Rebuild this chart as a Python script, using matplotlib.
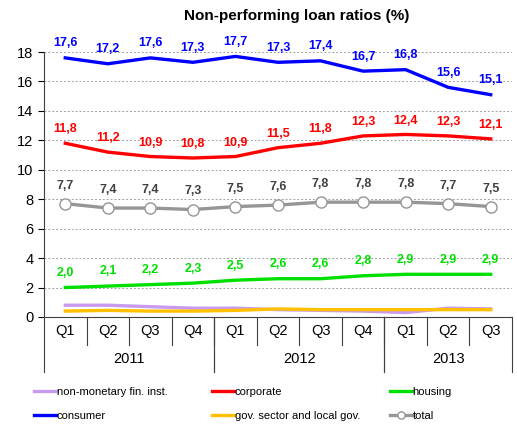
import numpy as np
import matplotlib.pyplot as plt
import matplotlib.transforms as mtransforms

plt.rcParams['font.family'] = ['Liberation Sans', 'DejaVu Sans']

quarters = ['Q1', 'Q2', 'Q3', 'Q4', 'Q1', 'Q2', 'Q3', 'Q4', 'Q1', 'Q2', 'Q3']
years = ['2011', '2012', '2013']
year_spans = [(0, 4), (4, 8), (8, 11)]

nonmonetary = [0.8, 0.8, 0.7, 0.6, 0.6, 0.5, 0.45, 0.4, 0.3, 0.6, 0.55]
corporate = [11.8, 11.2, 10.9, 10.8, 10.9, 11.5, 11.8, 12.3, 12.4, 12.3, 12.1]
housing = [2.0, 2.1, 2.2, 2.3, 2.5, 2.6, 2.6, 2.8, 2.9, 2.9, 2.9]
consumer = [17.6, 17.2, 17.6, 17.3, 17.7, 17.3, 17.4, 16.7, 16.8, 15.6, 15.1]
government = [0.4, 0.45, 0.4, 0.4, 0.45, 0.55, 0.5, 0.5, 0.5, 0.5, 0.5]
total = [7.7, 7.4, 7.4, 7.3, 7.5, 7.6, 7.8, 7.8, 7.8, 7.7, 7.5]

x = np.arange(len(quarters))

fig = plt.figure(figsize=(5.17, 4.25), dpi=100)
ax = fig.add_axes([44 / 517, 1 - 317 / 425, 468 / 517, 265 / 425])

lw = 2.4
h_nm, = ax.plot(x, nonmonetary, color='#C89BF0', lw=lw, label='non-monetary fin. inst.')
h_gov, = ax.plot(x, government, color='#FFC000', lw=lw, label='gov. sector and local gov.')
h_hou, = ax.plot(x, housing, color='#00E000', lw=lw, label='housing')
h_tot, = ax.plot(x, total, color='#969696', lw=lw, marker='o', ms=8,
                 mfc='white', mec='#969696', mew=1.0, label='total')
h_cor, = ax.plot(x, corporate, color='#FF0000', lw=lw, label='corporate')
h_con, = ax.plot(x, consumer, color='#0000FF', lw=lw, label='consumer')

def fmt(v):
    return ('%.1f' % v).replace('.', ',')

for vals, col, dy in [(consumer, '#0000FF', 10.5), (corporate, '#FF0000', 10),
                      (total, '#404040', 13), (housing, '#00E000', 10.5)]:
    for xi, v in zip(x, vals):
        ax.annotate(fmt(v), (xi, v), xytext=(0, dy), textcoords='offset points',
                    ha='center', va='center', fontsize=9, fontweight='bold',
                    color=col, annotation_clip=False)

ax.set_xlim(-0.5, len(quarters) - 0.5)
ax.set_ylim(0, 18)
ax.set_yticks(np.arange(0, 19, 2))
ax.tick_params(axis='y', labelsize=10.5, length=4, direction='out', width=0.8)
ax.set_xticks([])
for y in np.arange(2, 19, 2):
    ax.axhline(y, color='#A0A0A0', lw=0.7, ls=(0, (2, 2)), zorder=0)
ax.spines['top'].set_visible(False)
ax.spines['right'].set_visible(False)
ax.spines['left'].set_color('#404040')
ax.spines['bottom'].set_color('#404040')

# two-level category axis under the plot
trans = mtransforms.blended_transform_factory(ax.transData, ax.transAxes)
q_bottom = -28 / 265
y_bottom = -55 / 265
for xi, q in zip(x, quarters):
    ax.text(xi, -14 / 265, q, transform=trans, ha='center', va='center', fontsize=10.5)
for b in range(1, len(quarters)):
    ax.plot([b - 0.5, b - 0.5], [0, q_bottom], transform=trans, color='#404040',
            lw=0.8, clip_on=False)
for (s, e), yr in zip(year_spans, years):
    ax.text((s + e - 1) / 2, -42 / 265, yr, transform=trans, ha='center',
            va='center', fontsize=10.5)
    for b in (s, e):
        ax.plot([b - 0.5, b - 0.5], [0, y_bottom], transform=trans, color='#404040',
                lw=0.8, clip_on=False)

fig.text(297 / 517, 1 - 16 / 425, 'Non-performing loan ratios (%)', ha='center',
         va='center', fontsize=11, fontweight='bold')

# legend: three columns, placed one by one
columns = [[h_nm, h_con], [h_cor, h_gov], [h_hou, h_tot]]
col_x = [25, 203, 381]
for hs, cx in zip(columns, col_x):
    fig.legend(handles=hs, labels=[h.get_label() for h in hs], ncol=1,
               loc='center left', bbox_to_anchor=(cx / 517, 1 - 404 / 425),
               frameon=False, fontsize=8, handlelength=2.0, handletextpad=0.05,
               labelspacing=1.2, markerscale=0.65, borderpad=0.3)

fig.savefig('out.png', dpi=100)
